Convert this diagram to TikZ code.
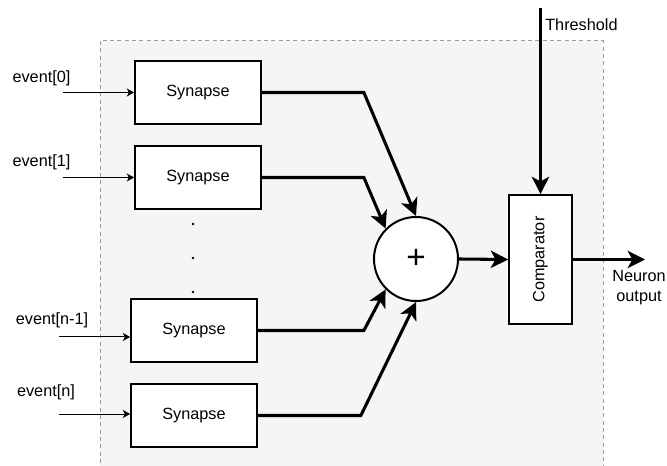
\documentclass[tikz,border=0pt]{standalone}
\usepackage{fontspec}
\setmainfont{Liberation Sans}
\usetikzlibrary{arrows.meta}

\definecolor{panelgray}{HTML}{F5F5F5}
\definecolor{dashgray}{HTML}{9A9A9A}

\begin{document}
\begin{tikzpicture}[x=0.75pt,y=-0.75pt,
  font=\fontsize{12.2}{15}\selectfont,
  synbox/.style={draw,line width=1.3pt,fill=white,minimum width=94.5pt,minimum height=47.25pt,inner sep=0pt},
  sumnode/.style={draw,circle,line width=1.5pt,fill=white,minimum size=63pt,inner sep=0pt},
  cmpbox/.style={draw,line width=1.3pt,fill=white,minimum width=47.25pt,minimum height=96.75pt,inner sep=0pt},
  inarrow/.style={line width=0.75pt,-{Stealth[length=5.5pt,width=6pt,inset=1.5pt]}},
  thickarrow/.style={line width=2.3pt,-{Stealth[length=13pt,width=13pt,inset=3.5pt]}},
  lbl/.style={inner sep=0pt}]

\useasboundingbox (0,0) rectangle (667,466);

% panel
\draw[dashgray,fill=panelgray,dash pattern=on 3pt off 2.5pt,line width=0.75pt] (100,41) rectangle (603,480);

% blocks
\node [synbox] (syn0) at (198,92.5) {Synapse};
\node [synbox] (syn1) at (198,177.5) {Synapse};
\node [synbox] (syn2) at (194,330.5) {Synapse};
\node [synbox] (syn3) at (194,415.5) {Synapse};

\node [sumnode] (sum) at (416,259) {\fontsize{25}{25}\selectfont +};
\node [cmpbox] (cmp) at (540.5,259.5) {};
\node [rotate=90] (cmplbl) at (cmp) {Comparator};

% dots
\fill (193,224) circle (1.4);
\fill (193,258) circle (1.4);
\fill (193,292) circle (1.4);

% inputs
\node [lbl] (ev0) at (41.5,78) {event[0]};
\node [lbl] (ev1) at (41.5,162) {event[1]};
\node [lbl] (ev2) at (52,320) {event[n-1]};
\node [lbl] (ev3) at (46,392) {event[n]};

\coordinate (in0) at (63,92.5);
\coordinate (in1) at (63,177.5);
\coordinate (in2) at (59,337);
\coordinate (in3) at (59,414);

\draw [inarrow] (in0) -- (syn0.west);
\draw [inarrow] (in1) -- (syn1.west);
\draw [inarrow] (in2) -- (in2 -| syn2.west);
\draw [inarrow] (in3) -- (in3 -| syn3.west);

% to adder
\draw [thickarrow] (syn0.east) -- ++(102,0) -- (sum.90);
\draw [thickarrow] (syn1.east) -- ++(102,0) -- (sum.135);
\draw [thickarrow] (syn2.east) -- ++(106,0) -- (sum.225);
\draw [thickarrow] (syn3.east) -- ++(103,0) -- (sum.270);

% comparator
\coordinate (thr) at (540.5,8);
\coordinate (out) at (645,259.5);
\draw [thickarrow] (sum.east) -- (cmp.west);
\draw [thickarrow] (thr) -- (cmp.north);
\draw [thickarrow] (cmp.east) -- (out);

\node [lbl,anchor=west] (thrlbl) at (545,25) {Threshold};
\node [lbl,align=center] (outlbl) at (639,288) {Neuron\\output};

\end{tikzpicture}
\end{document}
